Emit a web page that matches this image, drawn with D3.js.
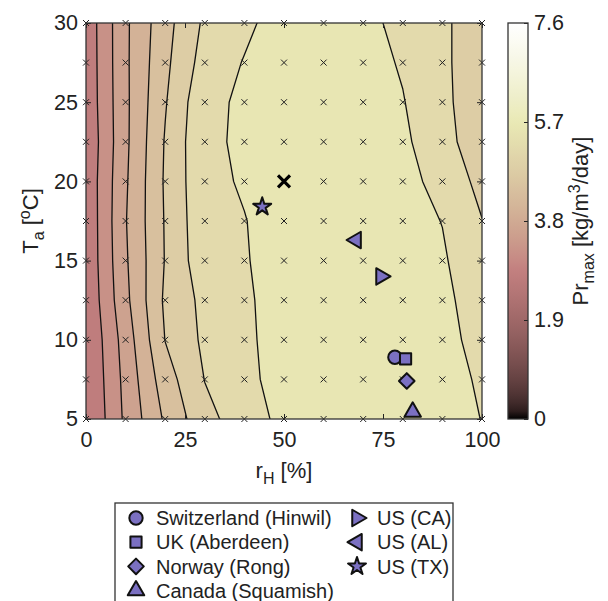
<!DOCTYPE html>
<html>
<head>
<meta charset="utf-8">
<script src="https://cdn.jsdelivr.net/npm/d3@7"></script>
<style>
  body { margin: 0; background: #fff; }
  svg { font-family: "Liberation Sans", Arial, Helvetica, sans-serif; }
  .axis text { font-size: 21.5px; fill: #222; }
  .axis line { stroke: #222; }
  .axis path { display: none; }
</style>
</head>
<body>
<svg id="chart" width="608" height="601"></svg>
<script>
// grid of the contour data
var rhValues = [0, 10, 20, 30, 40, 50, 60, 70, 80, 90, 100];
var taValues = [30, 27.5, 25, 22.5, 20, 17.5, 15, 12.5, 10, 7.5, 5];

// Pr_max per row of taValues (top row = 30 C)
var prRows = [
    [2.93, 3.93, 4.66, 5.27, 5.52, 5.77, 5.82, 5.72, 5.48, 5.30, 4.88],
    [2.92, 3.93, 4.71, 5.37, 5.62, 5.78, 5.84, 5.76, 5.56, 5.30, 4.88],
    [2.91, 3.92, 4.77, 5.52, 5.65, 5.80, 5.85, 5.78, 5.62, 5.29, 4.96],
    [2.87, 3.92, 4.83, 5.55, 5.64, 5.80, 5.86, 5.80, 5.68, 5.33, 4.98],
    [2.90, 3.95, 4.85, 5.52, 5.63, 5.78, 5.85, 5.82, 5.72, 5.48, 5.08],
    [2.88, 3.98, 4.83, 5.50, 5.59, 5.73, 5.83, 5.84, 5.76, 5.59, 5.21],
    [2.88, 3.95, 4.82, 5.47, 5.58, 5.72, 5.82, 5.85, 5.80, 5.65, 5.30],
    [2.85, 3.90, 4.87, 5.31, 5.55, 5.74, 5.82, 5.86, 5.83, 5.70, 5.39],
    [2.80, 3.78, 4.81, 5.28, 5.53, 5.75, 5.82, 5.86, 5.85, 5.74, 5.45],
    [2.78, 3.72, 4.62, 5.21, 5.50, 5.75, 5.83, 5.87, 5.87, 5.80, 5.53],
    [2.75, 3.68, 4.46, 5.08, 5.40, 5.71, 5.80, 5.85, 5.86, 5.80, 5.59]
];

var levels = [3.2, 3.6, 4.0, 4.4, 4.8, 5.2, 5.6];

var xTicks = [0, 25, 50, 75, 100];
var yTicks = [5, 10, 15, 20, 25, 30];
var cbTicks = [0, 1.9, 3.8, 5.7, 7.6];

// sites
var siteNames = ["Switzerland (Hinwil)", "UK (Aberdeen)", "Norway (Rong)", "Canada (Squamish)", "US (CA)", "US (AL)", "US (TX)"];
var siteShapes = ["circle", "square", "diamond", "up", "right", "left", "star"];
var siteRh = [78.0, 80.7, 81.0, 82.5, 74.5, 68.2, 44.5];
var siteTa = [8.9, 8.8, 7.4, 5.45, 14.0, 16.3, 18.4];

var optimum = [50, 20];

// layout
var margin = {top: 23, left: 86};
var width = 396, height = 396;
var cbX = 508, cbW = 20;

var svg = d3.select("#chart");

var scaleX = d3.scaleLinear().domain([0, 100]).range([0, width]);
var scaleY = d3.scaleLinear().domain([5, 30]).range([height, 0]);
var scaleC = d3.scaleLinear().domain([0, 7.6]).range([height, 0]);

// matlab "pink" colormap
function pink(t) {
    t = Math.max(0, Math.min(1, t));
    var r = Math.min(1, t / 0.375);
    var g = Math.max(0, Math.min(1, (t - 0.375) / 0.375));
    var b = Math.max(0, Math.min(1, (t - 0.75) / 0.25));
    var f = function(h) { return Math.round(255 * Math.sqrt((2 * t + h) / 3)); };
    return "rgb(" + f(r) + "," + f(g) + "," + f(b) + ")";
}
function colorOf(v) { return pink(v / 7.6); }

var defs = svg.append("defs");
defs.append("clipPath").attr("id", "plotClip")
    .append("rect").attr("width", width).attr("height", height);

var grad = defs.append("linearGradient").attr("id", "cbGrad")
    .attr("x1", 0).attr("y1", 1).attr("x2", 0).attr("y2", 0);
d3.range(0, 1.0001, 0.02).forEach(function(t) {
    grad.append("stop").attr("offset", t).attr("stop-color", pink(t));
});

var chart = svg.append("g")
    .attr("transform", "translate(" + margin.left + "," + margin.top + ")");

// contours (d3 puts grid value i at coordinate i + 0.5)
var flat = [].concat.apply([], prRows);
var contours = d3.contours().size([rhValues.length, taValues.length]).thresholds(levels)(flat);

var gridToPx = d3.geoTransform({
    point: function(gx, gy) {
        this.stream.point(scaleX((gx - 0.5) * 10), scaleY(30 - (gy - 0.5) * 2.5));
    }
});
var path = d3.geoPath(gridToPx);

var plot = chart.append("g").attr("clip-path", "url(#plotClip)");

plot.append("rect")
    .attr("width", width).attr("height", height)
    .attr("fill", colorOf(d3.min(flat)));

plot.selectAll("path.band")
    .data(contours)
    .enter()
    .append("path")
        .attr("class", "band")
        .attr("d", path)
        .attr("fill", function(d) { return colorOf(d.value) })
        .attr("stroke", "#111")
        .attr("stroke-width", 1.3)
        .attr("stroke-linejoin", "round");

// grid markers
var gridPts = [];
rhValues.forEach(function(r) {
    taValues.forEach(function(t) { gridPts.push([r, t]); });
});
chart.selectAll("path.gx")
    .data(gridPts)
    .enter()
    .append("path")
        .attr("class", "gx")
        .attr("transform", function(d) { return "translate(" + scaleX(d[0]) + "," + scaleY(d[1]) + ")" })
        .attr("d", "M-3,-3L3,3M-3,3L3,-3")
        .attr("stroke", "#222")
        .attr("stroke-width", 1);

// axes
chart.append("g").attr("class", "x axis")
    .attr("transform", "translate(0," + height + ")")
    .call(d3.axisBottom(scaleX).tickValues(xTicks).tickSize(-5).tickPadding(13));
chart.append("g").attr("class", "x axis")
    .call(d3.axisTop(scaleX).tickValues(xTicks).tickSize(-5).tickFormat(""));
chart.append("g").attr("class", "y axis")
    .call(d3.axisLeft(scaleY).tickValues(yTicks).tickSize(-5).tickPadding(8));
chart.append("g").attr("class", "y axis")
    .attr("transform", "translate(" + width + ",0)")
    .call(d3.axisRight(scaleY).tickValues(yTicks).tickSize(-5).tickFormat(""));

chart.append("rect")
    .attr("width", width).attr("height", height)
    .attr("fill", "none").attr("stroke", "#333").attr("stroke-width", 1.3);

// markers
var purple = "#7b70c2";
function markerPath(shape) {
    if (shape == "circle") return d3.symbol().type(d3.symbolCircle).size(140)();
    if (shape == "square") return d3.symbol().type(d3.symbolSquare).size(125)();
    if (shape == "diamond") return "M0,-7.8L7.8,0L0,7.8L-7.8,0Z";
    if (shape == "star") return d3.symbol().type(d3.symbolStar).size(100)();
    return d3.symbol().type(d3.symbolTriangle).size(118)();
}
function markerRot(shape) {
    if (shape == "right") return 90;
    if (shape == "left") return -90;
    return 0;
}

var sites = siteNames.map(function(n, i) {
    return {name: n, shape: siteShapes[i], rh: siteRh[i], ta: siteTa[i]};
});

chart.selectAll("path.site")
    .data(sites)
    .enter()
    .append("path")
        .attr("class", "site")
        .attr("transform", function(d) {
            return "translate(" + scaleX(d.rh) + "," + scaleY(d.ta) + ") rotate(" + markerRot(d.shape) + ")";
        })
        .attr("d", function(d) { return markerPath(d.shape) })
        .attr("fill", purple)
        .attr("stroke", "#111")
        .attr("stroke-width", 2)
        .attr("stroke-linejoin", "round");

chart.append("path")
    .attr("transform", "translate(" + scaleX(optimum[0]) + "," + scaleY(optimum[1]) + ")")
    .attr("d", "M-6,-6L6,6M-6,6L6,-6")
    .attr("stroke", "#000")
    .attr("stroke-width", 3.2);

// axis labels
var xl = svg.append("text")
    .attr("x", margin.left + width / 2).attr("y", 478)
    .attr("text-anchor", "middle").attr("font-size", 22).attr("fill", "#222");
xl.append("tspan").text("r");
xl.append("tspan").attr("font-size", 16).attr("dy", 6).text("H");
xl.append("tspan").attr("dy", -6).text(" [%]");

var yl = svg.append("text")
    .attr("transform", "translate(38," + (margin.top + height / 2) + ") rotate(-90)")
    .attr("text-anchor", "middle").attr("font-size", 22).attr("fill", "#222");
yl.append("tspan").text("T");
yl.append("tspan").attr("font-size", 16).attr("dy", 6).text("a");
yl.append("tspan").attr("dy", -6).text(" [");
yl.append("tspan").attr("font-size", 16).attr("dy", -8).text("o");
yl.append("tspan").attr("dy", 8).text("C]");

// colorbar
var cb = svg.append("g").attr("transform", "translate(" + cbX + "," + margin.top + ")");
cb.append("rect")
    .attr("width", cbW).attr("height", height)
    .attr("fill", "url(#cbGrad)");
cb.append("g").attr("class", "y axis")
    .attr("transform", "translate(" + cbW + ",0)")
    .call(d3.axisRight(scaleC).tickValues(cbTicks).tickSize(-4).tickPadding(6)
        .tickFormat(function(d) { return d === 0 ? "0" : d.toFixed(1) }));
cb.append("rect")
    .attr("width", cbW).attr("height", height)
    .attr("fill", "none").attr("stroke", "#333").attr("stroke-width", 1.3);

var cl = svg.append("text")
    .attr("transform", "translate(588," + (margin.top + height / 2) + ") rotate(-90)")
    .attr("text-anchor", "middle").attr("font-size", 22).attr("fill", "#222");
cl.append("tspan").text("Pr");
cl.append("tspan").attr("font-size", 16).attr("dy", 6).text("max");
cl.append("tspan").attr("dy", -6).text(" [kg/m");
cl.append("tspan").attr("font-size", 16).attr("dy", -8).text("3");
cl.append("tspan").attr("dy", 8).text("/day]");

// legend
var lg = svg.append("g");
lg.append("rect")
    .attr("x", 115).attr("y", 503).attr("width", 338).attr("height", 110)
    .attr("fill", "#fff").attr("stroke", "#333").attr("stroke-width", 1.3);

var items = lg.selectAll("g.item")
    .data(sites)
    .enter()
    .append("g")
        .attr("class", "item")
        .attr("transform", function(d, i) {
            var col = i < 4 ? 0 : 1;
            var row = i < 4 ? i : i - 4;
            return "translate(" + (col ? 357 : 136) + "," + (518 + row * 24.2) + ")";
        });
items.append("path")
    .attr("transform", function(d) { return "rotate(" + markerRot(d.shape) + ")" })
    .attr("d", function(d) { return markerPath(d.shape) })
    .attr("fill", purple)
    .attr("stroke", "#111")
    .attr("stroke-width", 2)
    .attr("stroke-linejoin", "round");
items.append("text")
    .attr("x", 20).attr("dy", "0.36em")
    .attr("font-size", 20).attr("fill", "#222")
    .text(function(d) { return d.name });
</script>
</body>
</html>
